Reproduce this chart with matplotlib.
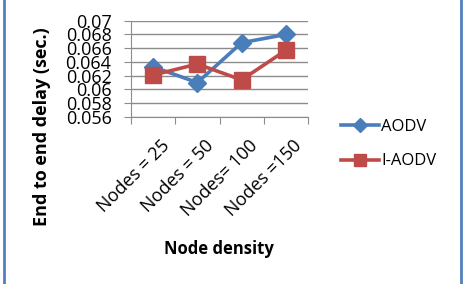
import matplotlib
matplotlib.use("Agg")
import matplotlib.pyplot as plt
from matplotlib.lines import Line2D
from matplotlib.transforms import ScaledTranslation

categories = ["Nodes = 25", "Nodes = 50", "Nodes= 100", "Nodes =150"]
aodv = [0.0633, 0.0610, 0.0668, 0.0680]
iaodv = [0.0621, 0.0637, 0.0614, 0.0657]
yticks = [0.056, 0.058, 0.06, 0.062, 0.064, 0.066, 0.068, 0.07]
ytick_labels = ["0.056", "0.058", "0.06", "0.062", "0.064", "0.066", "0.068", "0.07"]

plt.rcParams['font.family'] = ['Open Sans', 'DejaVu Sans']

W, H = 467, 284
fig = plt.figure(figsize=(W/100, H/100), dpi=100)
fig.patch.set_facecolor('white')

fig.add_artist(Line2D([3.5/W, 3.5/W], [0, 1], color='#4f81bd', lw=2, transform=fig.transFigure))
fig.add_artist(Line2D([461/W, 461/W], [0, 1], color='#4f81bd', lw=2, transform=fig.transFigure))

x0, x1 = 131/W, 308/W
ytop, ybot = 20.7, 117
ax = fig.add_axes([x0, 1 - ybot/H, x1 - x0, (ybot - ytop)/H])
xs = list(range(len(categories)))
ax.plot(xs, aodv, color='#4a7ebb', lw=2.6, marker='D', ms=9, label='AODV', zorder=3)
ax.plot(xs, iaodv, color='#be4b48', lw=2.6, marker='s', ms=11, label='I-AODV', zorder=4)
ax.set_xlim(-0.5, 3.5)
ax.set_ylim(0.056, 0.07)
ax.set_yticks(yticks)
ax.set_yticklabels(ytick_labels, fontsize=13)
ax.yaxis.grid(True, color='#8c8c8c', lw=1)
ax.set_axisbelow(True)
ax.set_xticks([-0.5, 0.5, 1.5, 2.5, 3.5])
ax.set_xticklabels([])
ax.set_xticks(xs, minor=True)
ax.set_xticklabels(categories, minor=True, rotation=45, ha='right', va='top',
                   rotation_mode='anchor', fontsize=13)
ax.tick_params(axis='x', which='minor', length=0, pad=7)
ax.tick_params(axis='x', which='major', length=5, color='#8c8c8c', direction='out')
ax.tick_params(axis='y', length=5, color='#8c8c8c', pad=9)
for s in ['top', 'right']:
    ax.spines[s].set_visible(False)
for s in ['left', 'bottom']:
    ax.spines[s].set_color('#8c8c8c')
off = ScaledTranslation(7/100, -10/100, fig.dpi_scale_trans)
for lab in ax.get_xticklabels(minor=True):
    lab.set_transform(lab.get_transform() + off)

fig.text(42/W, 1 - 127/H, "End to end delay (sec.)", rotation=90, ha='center', va='center',
         fontsize=13, fontweight='bold')
fig.text(219/W, 1 - 249/H, "Node density", ha='center', va='center', fontsize=12, fontweight='bold')

h1 = Line2D([], [], color='#4a7ebb', lw=2.6, marker='D', ms=7)
h2 = Line2D([], [], color='#be4b48', lw=2.6, marker='s', ms=9)
fig.legend(handles=[h1, h2], labels=['AODV', 'I-AODV'], loc='upper left',
           bbox_to_anchor=(326/W, 1 - 104/H),
           frameon=False, fontsize=12, handlelength=2.3, labelspacing=1.1, handletextpad=0.1)

fig.savefig("out.png", dpi=100)
